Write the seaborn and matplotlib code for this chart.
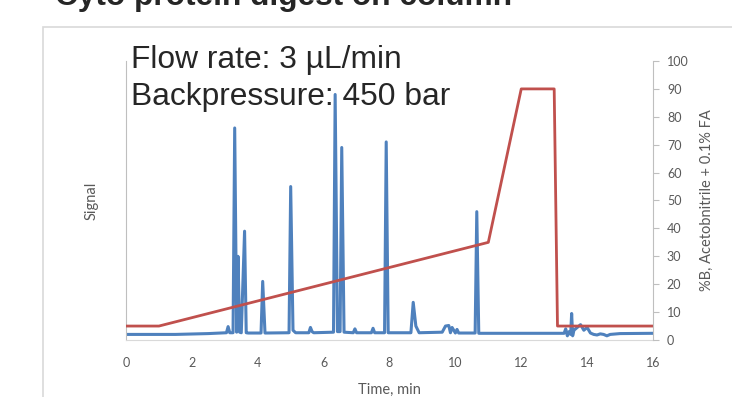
import matplotlib
matplotlib.use("Agg")
import matplotlib.pyplot as plt
import seaborn as sns
import pandas as pd
from matplotlib.patches import Rectangle

# --- data ---
sig_time = [0, 1.5, 2.5, 3.05, 3.1, 3.15, 3.25, 3.3, 3.36, 3.4, 3.45, 3.5, 3.6, 3.65, 3.71,
            4.1, 4.15, 4.22, 4.95, 5.0, 5.07, 5.15, 5.55, 5.6, 5.65, 5.7, 6.3, 6.35, 6.42,
            6.5, 6.55, 6.62, 6.9, 6.95, 7.0, 7.45, 7.5, 7.55, 7.85, 7.9, 7.96, 8.65, 8.72,
            8.8, 8.9, 9.6, 9.7, 9.8, 9.85, 9.9, 10.0, 10.05, 10.1, 10.6, 10.65, 10.71, 12.0,
            13.3, 13.35, 13.4, 13.45, 13.5, 13.53, 13.56, 13.6, 13.7, 13.8, 13.9, 14.0, 14.1,
            14.2, 14.3, 14.4, 14.5, 14.6, 14.7, 15.0, 16.0]
sig_value = [2.0, 2.0, 2.3, 2.6, 4.8, 2.6, 2.6, 76, 2.8, 30, 2.8, 2.6, 39, 2.6, 2.5,
             2.5, 21, 2.5, 2.6, 55, 3.5, 2.6, 2.6, 4.5, 3.0, 2.6, 2.8, 88, 3.0,
             3.0, 69, 2.8, 2.6, 4.0, 2.6, 2.6, 4.2, 2.6, 2.6, 71, 2.6, 2.6, 13.5,
             5.0, 2.6, 2.8, 5.0, 5.2, 2.6, 4.5, 2.5, 3.8, 2.5, 2.5, 46, 2.4, 2.4,
             2.4, 4.0, 1.5, 3.0, 2.0, 9.5, 1.5, 3.5, 4.5, 5.5, 3.5, 4.5, 2.5,
             2.0, 1.8, 2.2, 2.0, 1.5, 2.0, 2.3, 2.4]

grad_time = [0, 1, 11, 12, 13, 13.1, 16]
grad_pct = [5, 5, 35, 90, 90, 5, 5]

x_ticks = [0, 2, 4, 6, 8, 10, 12, 14, 16]
y2_ticks = [0, 10, 20, 30, 40, 50, 60, 70, 80, 90, 100]

title = "Cyto protein digest on column"
note1 = "Flow rate: 3 \u00b5L/min"
note2 = "Backpressure: 450 bar"

sig_df = pd.DataFrame({"time": sig_time, "signal": sig_value})
grad_df = pd.DataFrame({"time": grad_time, "pct": grad_pct})

sns.set_style("white")
plt.rcParams["font.family"] = ["Lato", "DejaVu Sans"]

W, H = 732, 397
fig = plt.figure(figsize=(W / 100, H / 100), dpi=100)

# outer light frame
fig.patches.append(Rectangle((43 / W, -0.2), 1.2, 0.2 + (1 - 27 / H),
                             transform=fig.transFigure, fill=False,
                             edgecolor="#D9D9D9", linewidth=1.2))

ax = fig.add_axes([126 / W, 1 - 340 / H, (653 - 126) / W, (340 - 61) / H])
ax.patch.set_alpha(0)
ax2 = ax.twinx()

sns.lineplot(data=sig_df, x="time", y="signal", ax=ax, color="#4F81BD",
             linewidth=2.2, sort=False, estimator=None)
sns.lineplot(data=grad_df, x="time", y="pct", ax=ax2, color="#C0504D",
             linewidth=2.0, sort=False, estimator=None)

ax.set_xlim(0, 16)
ax.set_ylim(0, 100)
ax2.set_ylim(0, 100)
ax.set_xticks(x_ticks)
ax.set_yticks([])
ax2.set_yticks(y2_ticks)

grey = "#595959"
for a in (ax, ax2):
    for s in a.spines.values():
        s.set_visible(False)
ax.spines["left"].set_visible(True)
ax.spines["left"].set_color("#BFBFBF")
ax.spines["bottom"].set_visible(True)
ax.spines["bottom"].set_color("#D9D9D9")
ax2.spines["right"].set_visible(True)
ax2.spines["right"].set_color("#BFBFBF")

ax.tick_params(axis="x", length=0, pad=12, labelsize=9, labelcolor=grey)
ax2.tick_params(axis="y", length=4, color="#BFBFBF", pad=6, labelsize=9, labelcolor=grey)

ax.set_xlabel("Time, min", fontsize=10.5, color=grey, labelpad=10)
ax.set_ylabel("Signal", fontsize=10.5, color=grey, labelpad=20)
ax2.set_ylabel("%B, Acetobnitrile + 0.1% FA", fontsize=10.5, color=grey, labelpad=8)

fig.text(55 / W, 1 - 5 / H, title, fontsize=22.8, fontweight="bold",
         family=["Liberation Sans", "DejaVu Sans"], va="baseline", ha="left")
fig.text(131 / W, 1 - 68 / H, note1, fontsize=22.9,
         family=["Liberation Sans", "DejaVu Sans"], va="baseline", ha="left")
fig.text(131 / W, 1 - 105 / H, note2, fontsize=22.9,
         family=["Liberation Sans", "DejaVu Sans"], va="baseline", ha="left")

fig.savefig("out.png", dpi=100)
